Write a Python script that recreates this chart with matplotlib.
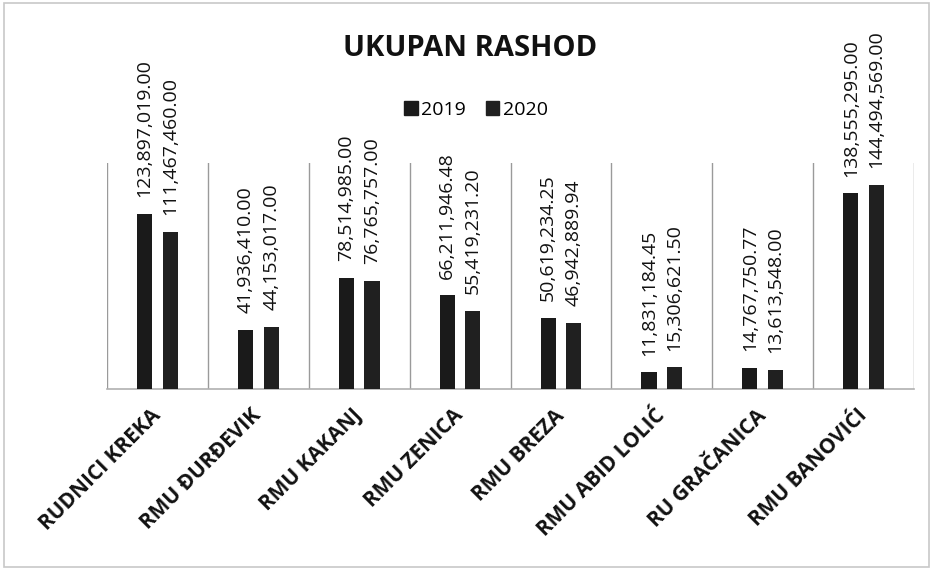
import numpy as np
import matplotlib.pyplot as plt
from matplotlib.patches import Patch, Rectangle

# Podaci sa grafikona
kategorije = ['RUDNICI KREKA', 'RMU ĐURĐEVIK', 'RMU KAKANJ', 'RMU ZENICA',
              'RMU BREZA', 'RMU ABID LOLIĆ', 'RU GRAČANICA', 'RMU BANOVIĆI']
rashod_2019 = [123897019.00, 41936410.00, 78514985.00, 66211946.48,
               50619234.25, 11831184.45, 14767750.77, 138555295.00]
rashod_2020 = [111467460.00, 44153017.00, 76765757.00, 55419231.20,
               46942889.94, 15306621.50, 13613548.00, 144494569.00]
godine = ['2019', '2020']

plt.rcParams['font.family'] = ['Open Sans', 'DejaVu Sans']

fig = plt.figure(figsize=(9.33, 5.70), dpi=100)
ax = fig.add_axes([0.1147, 0.3175, 0.865, 0.3965])

x = np.arange(len(kategorije))
sirina = 0.15
pomak = 0.127
boja_2019 = '#1a1a1a'
boja_2020 = '#202020'

b1 = ax.bar(x - pomak, rashod_2019, sirina, color=boja_2019, zorder=3)
b2 = ax.bar(x + pomak, rashod_2020, sirina, color=boja_2020, zorder=3)

# Oznake vrijednosti iznad stubova
for stubovi in (b1, b2):
    for s in stubovi:
        v = s.get_height()
        ax.annotate(f'{v:,.2f}', (s.get_x() + s.get_width() / 2, v),
                    xytext=(0, 12), textcoords='offset points',
                    rotation=90, ha='center', va='bottom',
                    fontsize=14, color='#111111')

ax.set_xlim(-0.5, len(kategorije) - 0.5)
ax.set_ylim(0, 160e6)

# Vertikalne linije izmedju kategorija
ax.set_xticks(np.arange(-0.5, len(kategorije), 1), minor=True)
ax.grid(which='minor', axis='x', color='#9a9a9a', linewidth=1.0, zorder=0)
ax.tick_params(which='both', length=0)

ax.set_xticks(x)
ax.set_xticklabels(kategorije, rotation=45, ha='right', va='center',
                   rotation_mode='anchor', fontsize=15, fontweight='bold',
                   color='#111111')
ax.tick_params(axis='x', pad=17)
ax.set_yticks([])

for k in ['top', 'left', 'right']:
    ax.spines[k].set_visible(False)
ax.spines['bottom'].set_color('#b0b0b0')
ax.spines['bottom'].set_linewidth(1.2)

fig.text(470 / 933, 1 - 48 / 570, 'UKUPAN RASHOD', ha='center', va='center',
         fontsize=21, fontweight='bold', color='#111111')

rucke = [Patch(color=boja_2019), Patch(color=boja_2020)]
fig.legend(rucke, godine, loc='center', bbox_to_anchor=(476 / 933, 1 - 110 / 570),
           ncol=2, frameon=False, fontsize=14, handlelength=0.7,
           handleheight=0.7, handletextpad=0.2, columnspacing=1.0)

# Okvir oko grafikona
fig.patches.append(Rectangle((0.004, 0.006), 0.992, 0.988, transform=fig.transFigure,
                             fill=False, edgecolor='#c8c8c8', linewidth=1.2))

fig.savefig('out.png', dpi=100)
